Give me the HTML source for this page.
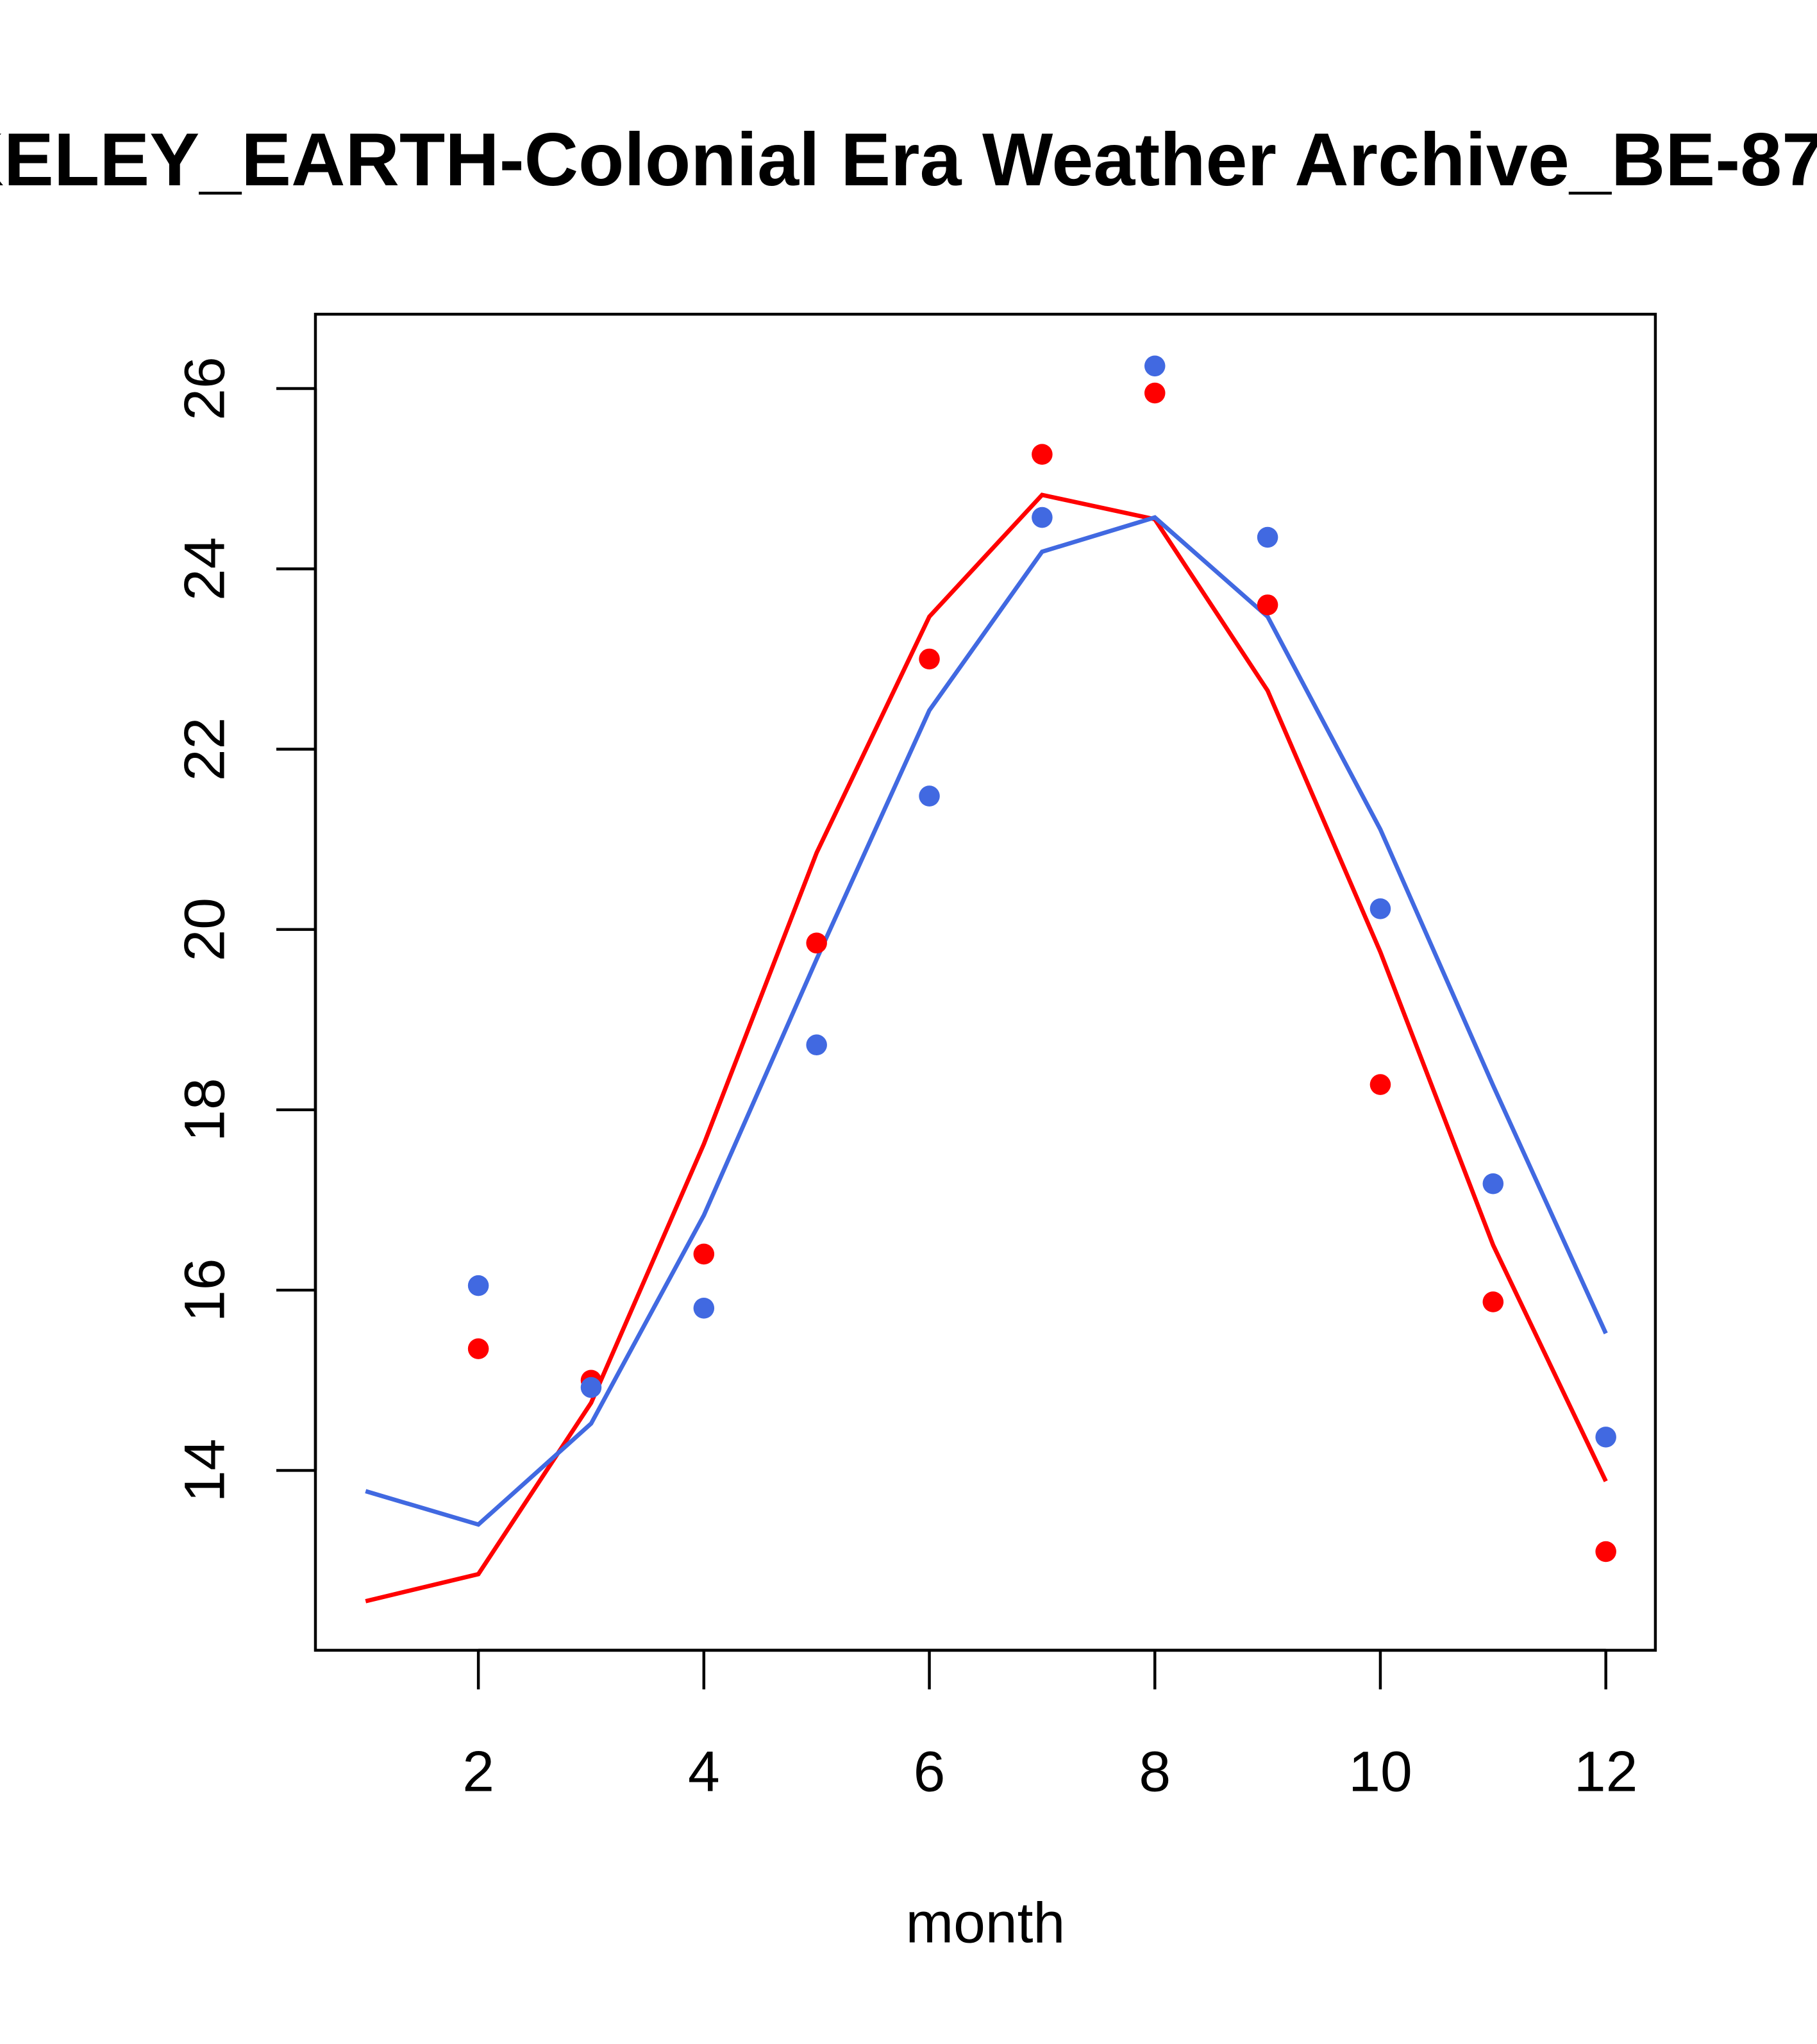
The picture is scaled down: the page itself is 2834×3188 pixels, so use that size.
<!DOCTYPE html>
<html><head><meta charset="utf-8"><style>html,body{margin:0;padding:0;background:#fff}svg{display:block}</style></head>
<body>
<svg width="2834" height="3188" viewBox="0 0 1394 1568" xmlns="http://www.w3.org/2000/svg" font-family="Liberation Sans, sans-serif">
<rect width="1394" height="1568" fill="#fff"/>
<text x="-160" y="142" text-anchor="start" font-size="57.5" font-weight="bold">BERKELEY_EARTH-Colonial Era Weather Archive_BE-8741</text>
<rect x="242" y="241" width="1028" height="1025" fill="none" stroke="#000" stroke-width="2.2"/>
<g id="xaxis"></g>
<g id="yaxis"></g>
<g id="marks"></g>
<text x="756" y="1490" text-anchor="middle" font-size="44">month</text>
</svg>
<script>
const months=[1,2,3,4,5,6,7,8,9,10,11,12];
const redLine=[12.55,12.85,14.75,17.62,20.85,23.47,24.82,24.55,22.65,19.75,16.5,13.88];
const blueLine=[13.77,13.4,14.52,16.83,19.67,22.43,24.19,24.57,23.47,21.11,18.27,15.52];
const redPts=[null,15.35,15.0,16.4,19.85,23.0,25.27,25.95,23.6,18.28,15.87,13.1];
const bluePts=[null,16.05,14.92,15.8,18.72,21.48,24.57,26.25,24.35,20.23,17.18,14.37];
const xTicks=[2,4,6,8,10,12];
const yTicks=[14,16,18,20,22,24,26];
const NS="http://www.w3.org/2000/svg";
function X(m){return 367+(m-2)*86.5;}
function Y(v){return 298+(26-v)*69.17;}
function mk(t,a,p){const e=document.createElementNS(NS,t);for(const k in a)e.setAttribute(k,a[k]);p.appendChild(e);return e;}
const xa=document.getElementById('xaxis'),ya=document.getElementById('yaxis'),mg=document.getElementById('marks');
mk('line',{x1:X(2),x2:X(12),y1:1266,y2:1266,stroke:'#000','stroke-width':2.2},xa);
xTicks.forEach(t=>{
 mk('line',{x1:X(t),x2:X(t),y1:1266,y2:1296,stroke:'#000','stroke-width':2.2},xa);
 const tx=mk('text',{x:X(t),y:1374,'text-anchor':'middle','font-size':44},xa);tx.textContent=t;
 
 
});
mk('line',{x1:242,x2:242,y1:Y(14),y2:Y(26),stroke:'#000','stroke-width':2.2},ya);
yTicks.forEach(t=>{
 mk('line',{x1:212,x2:242,y1:Y(t),y2:Y(t),stroke:'#000','stroke-width':2.2},ya);
 const tx=mk('text',{x:172,y:Y(t),'text-anchor':'middle','font-size':44,transform:`rotate(-90 172 ${Y(t)})`},ya);tx.textContent=t;
 
 
});
function line(vals,col,name){
 const p=mk('polyline',{points:vals.map((v,i)=>X(months[i])+','+Y(v)).join(' '),fill:'none',stroke:col,'stroke-width':3.3},mg);
 
 
}
function pts(vals,col,name){
 vals.forEach((v,i)=>{if(v==null)return;
  const c=mk('circle',{cx:X(months[i]),cy:Y(v),r:8,fill:col},mg);
  
  
 });
}
line(redLine,'#ff0000','red-line');
line(blueLine,'#4169e1','blue-line');
pts(redPts,'#ff0000','red-point');
pts(bluePts,'#4169e1','blue-point');
</script>
</body></html>
